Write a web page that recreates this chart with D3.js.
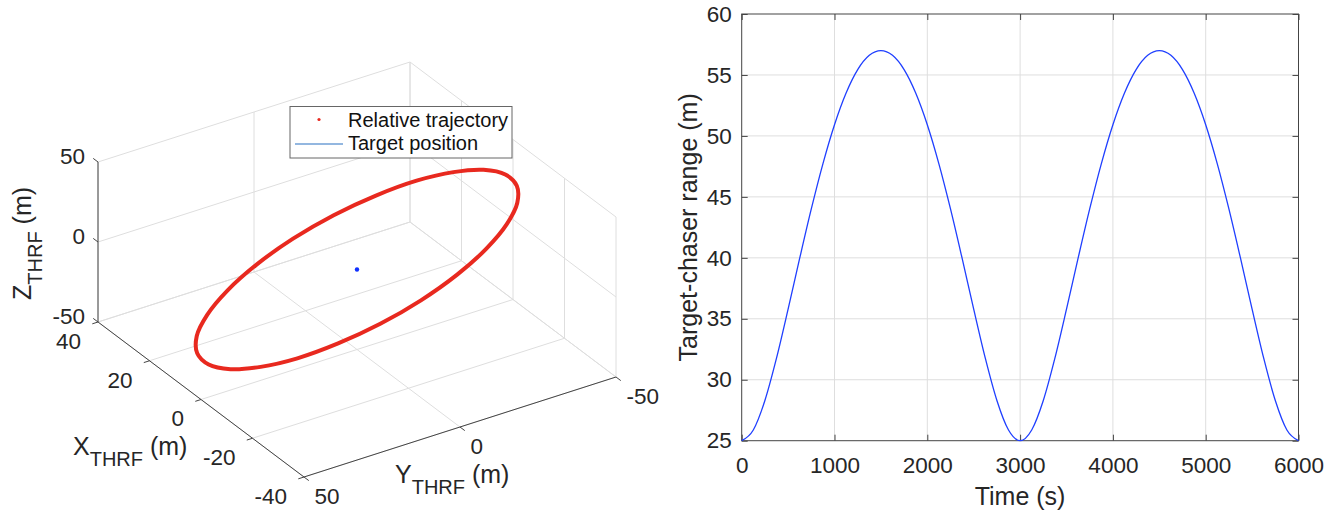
<!DOCTYPE html>
<html>
<head>
<meta charset="utf-8">
<script src="https://cdn.jsdelivr.net/npm/d3@7"></script>
<style>
  body { margin: 0; background: #fff; }
  svg { display: block; font-family: "Liberation Sans", Arial, Helvetica, sans-serif; }
</style>
</head>
<body>
<svg id="chart" width="1341" height="517"></svg>
<script>
// ---- 3D plot data (THRF frame, metres) ----
var xTicks = [-40, -20, 0, 20, 40];
var yTicks = [-50, 0, 50];
var zTicks = [-50, 0, 50];

// relative trajectory, one orbit sampled every 250 s
var trajX = [-23.5, -24.8, -24.4, -22.4, -18.8, -14.0, -8.2, -1.8, 4.7, 10.8, 16.2, 20.6,
             23.5, 24.8, 24.4, 22.4, 18.8, 14.0, 8.2, 1.8, -4.7, -10.8, -16.2, -20.6];
var trajY = [-1.1, 13.0, 26.2, 37.6, 46.4, 52.1, 54.3, 52.7, 47.5, 39.1, 28.1, 15.1,
             1.1, -13.0, -26.2, -37.6, -46.4, -52.1, -54.3, -52.7, -47.5, -39.1, -28.1, -15.1];
var trajZ = [8.5, 4.2, -0.3, -4.9, -9.1, -12.8, -15.5, -17.2, -17.7, -17.0, -15.1, -12.3,
             -8.5, -4.2, 0.3, 4.9, 9.1, 12.8, 15.5, 17.2, 17.7, 17.0, 15.1, 12.3];
var targetPos = [0, 0, 0];

// ---- range plot data ----
var timeS = [0, 125, 250, 375, 500, 625, 750, 875, 1000, 1125, 1250, 1375, 1500,
             1625, 1750, 1875, 2000, 2125, 2250, 2375, 2500, 2625, 2750, 2875, 3000,
             3125, 3250, 3375, 3500, 3625, 3750, 3875, 4000, 4125, 4250, 4375, 4500,
             4625, 4750, 4875, 5000, 5125, 5250, 5375, 5500, 5625, 5750, 5875, 6000];
var rangeM = [25.00, 25.88, 28.30, 31.77, 35.79, 39.97, 44.01, 47.71, 50.92, 53.52, 55.44, 56.61, 57.00,
              56.61, 55.44, 53.52, 50.92, 47.71, 44.01, 39.97, 35.79, 31.77, 28.30, 25.88, 25.00,
              25.88, 28.30, 31.77, 35.79, 39.97, 44.01, 47.71, 50.92, 53.52, 55.44, 56.61, 57.00,
              56.61, 55.44, 53.52, 50.92, 47.71, 44.01, 39.97, 35.79, 31.77, 28.30, 25.88, 25.00];
var timeTicks = [0, 1000, 2000, 3000, 4000, 5000, 6000];
var rangeTicks = [25, 30, 35, 40, 45, 50, 55, 60];

var svg = d3.select("#chart");
var textColor = "#262626", gridColor = "#dedede", axisColor = "#444";
var tickFont = "22.5px", labelFont = "25px";

// =================== left: 3D view ===================
// screen corner of (x=40, y=50, z=-50) and the edge vectors of the box
var corner = [98, 322];
var vX = [206, 155], vY = [312, -100], vZ = [0, -160];
var xs = d3.scaleLinear().domain([40, -40]).range([0, 1]);
var ys = d3.scaleLinear().domain([50, -50]).range([0, 1]);
var zs = d3.scaleLinear().domain([-50, 50]).range([0, 1]);

function proj(x, y, z) {
  var a = xs(x), b = ys(y), c = zs(z);
  return [corner[0] + a * vX[0] + b * vY[0] + c * vZ[0],
          corner[1] + a * vX[1] + b * vY[1] + c * vZ[1]];
}

function unit(v) { var l = Math.hypot(v[0], v[1]); return [v[0] / l, v[1] / l]; }

var g3 = svg.append("g");

function seg(p, q, color) {
  var a = proj(p[0], p[1], p[2]), b = proj(q[0], q[1], q[2]);
  g3.append("line")
    .attr("x1", a[0]).attr("y1", a[1]).attr("x2", b[0]).attr("y2", b[1])
    .attr("stroke", color).attr("stroke-width", 1);
}

// back panels: floor z=-50, wall x=40, wall y=-50
xTicks.forEach(function (xt) {
  seg([xt, 50, -50], [xt, -50, -50], gridColor);
  seg([xt, -50, -50], [xt, -50, 50], gridColor);
});
yTicks.forEach(function (yt) {
  seg([40, yt, -50], [-40, yt, -50], gridColor);
  seg([40, yt, -50], [40, yt, 50], gridColor);
});
zTicks.forEach(function (zt) {
  seg([40, 50, zt], [40, -50, zt], gridColor);
  seg([40, -50, zt], [-40, -50, zt], gridColor);
});

// axis lines
seg([40, 50, -50], [40, 50, 50], axisColor);
seg([40, 50, -50], [-40, 50, -50], axisColor);
seg([-40, 50, -50], [-40, -50, -50], axisColor);

// ticks + labels
var tl = 6;
var dirZ = unit([-vX[0], -vX[1]]), dirX = unit([-vY[0], -vY[1]]), dirY = unit(vX);

function tick(p, d) {
  g3.append("line")
    .attr("x1", p[0]).attr("y1", p[1])
    .attr("x2", p[0] + d[0] * tl).attr("y2", p[1] + d[1] * tl)
    .attr("stroke", axisColor).attr("stroke-width", 1);
}

zTicks.forEach(function (zt) {
  var p = proj(40, 50, zt);
  tick(p, dirZ);
  g3.append("text").attr("x", p[0] - 13).attr("y", p[1] - 6).attr("dy", "0.35em")
    .attr("text-anchor", "end").attr("font-size", tickFont).attr("fill", textColor).text(zt);
});
xTicks.forEach(function (xt) {
  var p = proj(xt, 50, -50);
  tick(p, dirX);
  g3.append("text").attr("x", p[0] - 17).attr("y", p[1] + 19).attr("dy", "0.35em")
    .attr("text-anchor", "end").attr("font-size", tickFont).attr("fill", textColor).text(xt);
});
yTicks.forEach(function (yt) {
  var p = proj(-40, yt, -50);
  tick(p, dirY);
  g3.append("text").attr("x", p[0] + 10.5).attr("y", p[1] + 19).attr("dy", "0.35em")
    .attr("text-anchor", "start").attr("font-size", tickFont).attr("fill", textColor).text(yt);
});

// axis labels with THRF subscript
function subLabel(sel, letter) {
  sel.attr("font-size", labelFont).attr("fill", textColor);
  sel.append("tspan").text(letter);
  sel.append("tspan").attr("font-size", "20px").attr("dy", 11).text("THRF");
  sel.append("tspan").attr("dy", -11).text(" (m)");
}
subLabel(g3.append("text").attr("x", 73).attr("y", 455), "X");
subLabel(g3.append("text").attr("x", 395).attr("y", 483), "Y");
subLabel(g3.append("text").attr("transform", "translate(31,300) rotate(-90)"), "Z");

// trajectory
var trajPts = trajX.map(function (x, i) { return proj(x, trajY[i], trajZ[i]); });
g3.append("path")
  .attr("d", d3.line().curve(d3.curveCatmullRomClosed.alpha(0.5))(trajPts))
  .attr("fill", "none").attr("stroke", "#e8291f").attr("stroke-width", 4);

var tp = proj(targetPos[0], targetPos[1], targetPos[2]);
g3.append("circle").attr("cx", tp[0]).attr("cy", tp[1]).attr("r", 2.2).attr("fill", "#1030ff");

// legend
var lg = g3.append("g");
lg.append("rect").attr("x", 290).attr("y", 106.5).attr("width", 222).attr("height", 51.5)
  .attr("fill", "#fff").attr("stroke", "#666").attr("stroke-width", 1);
lg.append("circle").attr("cx", 319).attr("cy", 119.5).attr("r", 1.6).attr("fill", "#e8291f");
lg.append("line").attr("x1", 295).attr("x2", 343).attr("y1", 144).attr("y2", 144)
  .attr("stroke", "#6f9fd6").attr("stroke-width", 1.5);
lg.append("text").attr("x", 348).attr("y", 127).attr("font-size", "20px").attr("fill", "#111").text("Relative trajectory");
lg.append("text").attr("x", 348).attr("y", 150).attr("font-size", "20px").attr("fill", "#111").text("Target position");

// =================== right: range vs time ===================
var m = { left: 741.7, right: 1298.5, top: 14, bottom: 440.7 };
var xT = d3.scaleLinear().domain([0, 6000]).range([m.left, m.right]);
var yR = d3.scaleLinear().domain([25, 60]).range([m.bottom, m.top]);

var g2 = svg.append("g");

g2.selectAll(".vgrid").data(timeTicks.slice(1, -1)).enter().append("line")
  .attr("x1", xT).attr("x2", xT).attr("y1", m.top).attr("y2", m.bottom)
  .attr("stroke", gridColor).attr("stroke-width", 1);
g2.selectAll(".hgrid").data(rangeTicks.slice(1, -1)).enter().append("line")
  .attr("y1", yR).attr("y2", yR).attr("x1", m.left).attr("x2", m.right)
  .attr("stroke", gridColor).attr("stroke-width", 1);

function styleAxis(a) {
  a.select(".domain").remove();
  a.selectAll("line").attr("stroke", axisColor);
  a.selectAll("text").attr("fill", textColor);
  a.attr("font-size", tickFont).attr("font-family", null);
}

g2.append("g").attr("transform", "translate(0," + m.bottom + ")")
  .call(d3.axisBottom(xT).tickValues(timeTicks).tickFormat(d3.format("d"))
    .tickSizeInner(-6).tickSizeOuter(0).tickPadding(16))
  .call(styleAxis);
g2.append("g").attr("transform", "translate(" + m.left + ",0)")
  .call(d3.axisLeft(yR).tickValues(rangeTicks).tickFormat(d3.format("d"))
    .tickSizeInner(-6).tickSizeOuter(0).tickPadding(10))
  .call(styleAxis);
g2.append("g").attr("transform", "translate(0," + m.top + ")")
  .call(d3.axisTop(xT).tickValues(timeTicks).tickSizeInner(-6).tickSizeOuter(0).tickFormat(""))
  .call(styleAxis);
g2.append("g").attr("transform", "translate(" + m.right + ",0)")
  .call(d3.axisRight(yR).tickValues(rangeTicks).tickSizeInner(-6).tickSizeOuter(0).tickFormat(""))
  .call(styleAxis);

g2.append("rect").attr("x", m.left).attr("y", m.top)
  .attr("width", m.right - m.left).attr("height", m.bottom - m.top)
  .attr("fill", "none").attr("stroke", axisColor).attr("stroke-width", 1);

var rangeLine = d3.line()
  .x(function (d, i) { return xT(timeS[i]); })
  .y(function (d) { return yR(d); })
  .curve(d3.curveMonotoneX);

g2.append("path").attr("d", rangeLine(rangeM))
  .attr("fill", "none").attr("stroke", "#1f3fff").attr("stroke-width", 1.3);

g2.append("text").attr("x", (m.left + m.right) / 2).attr("y", 505)
  .attr("text-anchor", "middle").attr("font-size", labelFont).attr("fill", textColor).text("Time (s)");
g2.append("text").attr("transform", "translate(697," + (m.top + m.bottom) / 2 + ") rotate(-90)")
  .attr("text-anchor", "middle").attr("font-size", labelFont).attr("fill", textColor)
  .text("Target-chaser range (m)");
</script>
</body>
</html>
